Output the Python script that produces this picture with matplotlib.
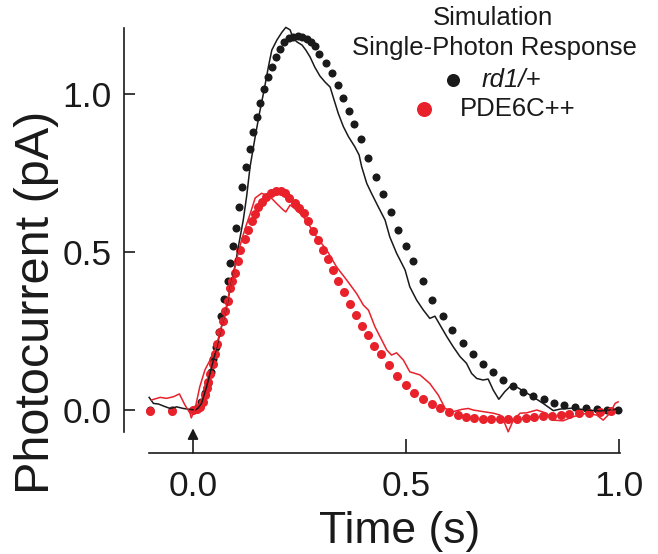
import matplotlib
matplotlib.use("Agg")
import matplotlib.pyplot as plt
from matplotlib.lines import Line2D

plt.rcParams['font.family'] = ['Liberation Sans', 'DejaVu Sans']

# ---- data -------------------------------------------------------------
# Simulation (dots)
sim_wt_t = [-0.10, -0.05, 0.000, 0.009, 0.019, 0.028, 0.035, 0.042, 0.046, 0.054, 0.061,
            0.066, 0.073, 0.081, 0.087, 0.094, 0.100, 0.109, 0.116, 0.124, 0.134,
            0.142, 0.150, 0.158, 0.167, 0.176, 0.185, 0.195, 0.204, 0.214, 0.225,
            0.235, 0.246, 0.257, 0.267, 0.277, 0.286, 0.296, 0.312, 0.326, 0.340,
            0.353, 0.366, 0.379, 0.394, 0.412, 0.430, 0.447, 0.464, 0.481, 0.500,
            0.517, 0.539, 0.562, 0.586, 0.609, 0.633, 0.657, 0.680, 0.705, 0.728,
            0.752, 0.775, 0.799, 0.824, 0.847, 0.872, 0.897, 0.923, 0.948, 0.973, 0.998]
sim_wt_v = [0.000, 0.000, 0.000, 0.006, 0.025, 0.053, 0.085, 0.119, 0.160, 0.198, 0.248,
            0.299, 0.352, 0.409, 0.465, 0.519, 0.575, 0.642, 0.705, 0.768, 0.825,
            0.881, 0.928, 0.973, 1.017, 1.053, 1.087, 1.116, 1.142, 1.164, 1.176,
            1.182, 1.185, 1.182, 1.174, 1.164, 1.151, 1.127, 1.097, 1.066, 1.029,
            0.989, 0.947, 0.905, 0.858, 0.797, 0.739, 0.683, 0.626, 0.571, 0.519,
            0.472, 0.407, 0.349, 0.299, 0.254, 0.213, 0.176, 0.145, 0.119, 0.094,
            0.075, 0.058, 0.044, 0.034, 0.023, 0.016, 0.010, 0.005, 0.002, 0.000, 0.000]

sim_pde_t = [-0.10, -0.05, 0.000, 0.009, 0.016, 0.023, 0.028, 0.032, 0.036, 0.040, 0.046,
             0.052, 0.057, 0.063, 0.070, 0.075, 0.081, 0.087, 0.092, 0.099, 0.105,
             0.110, 0.121, 0.130, 0.138, 0.146, 0.153, 0.161, 0.171, 0.182, 0.195,
             0.206, 0.216, 0.226, 0.239, 0.250, 0.261, 0.271, 0.282, 0.294, 0.306,
             0.318, 0.329, 0.341, 0.355, 0.369, 0.383, 0.397, 0.412, 0.425, 0.441,
             0.459, 0.479, 0.499, 0.519, 0.541, 0.561, 0.581, 0.602, 0.621, 0.641,
             0.660, 0.680, 0.700, 0.721, 0.740, 0.760, 0.782, 0.801, 0.822, 0.842,
             0.863, 0.883, 0.906, 0.930, 0.955, 0.981]
sim_pde_v = [-0.003, -0.003, 0.000, 0.002, 0.010, 0.026, 0.047, 0.069, 0.089, 0.115, 0.147,
             0.178, 0.210, 0.246, 0.283, 0.314, 0.346, 0.386, 0.409, 0.435, 0.472,
             0.505, 0.540, 0.571, 0.597, 0.620, 0.642, 0.658, 0.673, 0.686, 0.694,
             0.694, 0.686, 0.671, 0.655, 0.639, 0.624, 0.597, 0.568, 0.537, 0.506,
             0.477, 0.443, 0.409, 0.372, 0.337, 0.302, 0.267, 0.236, 0.204, 0.176,
             0.142, 0.108, 0.079, 0.054, 0.035, 0.018, 0.005, -0.006, -0.016, -0.022,
             -0.026, -0.028, -0.029, -0.029, -0.029, -0.027, -0.025, -0.023, -0.020, -0.018,
             -0.016, -0.013, -0.010, -0.008, -0.006, -0.004]

# Recorded responses (lines)
rec_wt_t = [-0.103, -0.093, -0.081, -0.070, -0.054, -0.038, -0.023, -0.007, 0.005, 0.012,
            0.020, 0.032, 0.044, 0.056, 0.067, 0.079, 0.088, 0.099, 0.108, 0.118,
            0.126, 0.134, 0.146, 0.156, 0.167, 0.177, 0.185, 0.197, 0.209, 0.218,
            0.228, 0.235, 0.244, 0.256, 0.265, 0.275, 0.286, 0.298, 0.310, 0.322,
            0.329, 0.341, 0.353, 0.365, 0.380, 0.390, 0.396, 0.408, 0.419, 0.435,
            0.451, 0.462, 0.478, 0.486, 0.498, 0.509, 0.525, 0.541, 0.556, 0.568,
            0.580, 0.596, 0.611, 0.627, 0.642, 0.654, 0.666, 0.681, 0.693, 0.705,
            0.718, 0.732, 0.744, 0.756, 0.772, 0.798, 0.822, 0.846, 0.862, 0.892,
            0.924, 0.955, 0.979, 0.998]
rec_wt_v = [0.040, 0.021, 0.019, 0.013, 0.005, 0.010, 0.005, 0.002, 0.000, 0.006,
            0.021, 0.074, 0.137, 0.200, 0.264, 0.327, 0.390, 0.459, 0.528, 0.601,
            0.677, 0.770, 0.865, 0.939, 1.013, 1.086, 1.139, 1.171, 1.196, 1.211,
            1.203, 1.177, 1.165, 1.155, 1.139, 1.117, 1.085, 1.057, 1.038, 1.022,
            0.991, 0.939, 0.897, 0.865, 0.833, 0.807, 0.770, 0.717, 0.686, 0.643,
            0.601, 0.548, 0.496, 0.475, 0.443, 0.390, 0.348, 0.316, 0.290, 0.297,
            0.269, 0.232, 0.200, 0.169, 0.148, 0.116, 0.100, 0.095, 0.098, 0.063,
            0.034, 0.058, 0.074, 0.076, 0.063, 0.042, 0.021, -0.002, 0.003, 0.006,
            0.000, -0.003, 0.000, 0.003]

rec_pde_t = [-0.097, -0.077, -0.062, -0.046, -0.032, -0.019, -0.007, -0.004, 0.005, 0.016,
             0.028, 0.040, 0.052, 0.063, 0.075, 0.083, 0.093, 0.103, 0.114, 0.126,
             0.134, 0.146, 0.161, 0.181, 0.196, 0.212, 0.218, 0.228, 0.243, 0.259,
             0.275, 0.290, 0.314, 0.337, 0.361, 0.384, 0.400, 0.412, 0.427, 0.443,
             0.455, 0.466, 0.478, 0.494, 0.509, 0.533, 0.556, 0.576, 0.592, 0.611,
             0.631, 0.646, 0.658, 0.681, 0.705, 0.721, 0.732, 0.740, 0.752, 0.768,
             0.783, 0.807, 0.830, 0.846, 0.869, 0.893, 0.924, 0.948, 0.963, 0.979,
             0.991, 0.998]
rec_pde_v = [0.032, 0.040, 0.037, 0.042, 0.051, 0.016, -0.010, -0.025, 0.005, 0.074,
             0.127, 0.158, 0.190, 0.244, 0.306, 0.359, 0.417, 0.480, 0.538, 0.589,
             0.620, 0.671, 0.686, 0.675, 0.654, 0.633, 0.627, 0.649, 0.633, 0.612,
             0.580, 0.548, 0.506, 0.453, 0.411, 0.369, 0.332, 0.316, 0.264, 0.222,
             0.190, 0.174, 0.181, 0.158, 0.121, 0.111, 0.084, 0.047, 0.005, -0.005,
             0.002, 0.005, 0.000, -0.005, -0.010, -0.016, -0.042, -0.069, -0.032, -0.010,
             -0.009, 0.000, -0.010, -0.032, -0.034, -0.021, -0.010, -0.016, -0.032, -0.010,
             0.021, 0.026]

xticks = [0.0, 0.5, 1.0]
xticklabels = ['0.0', '0.5', '1.0']
yticks = [0.0, 0.5, 1.0]
yticklabels = ['0.0', '0.5', '1.0']

legend_title = ['Simulation', 'Single-Photon Response']
legend_labels = ['rd1/+', 'PDE6C++']

BLACK = '#1a1a1a'
RED = '#e8212b'

# ---- figure -----------------------------------------------------------
W, H = 658, 554
fig = plt.figure(figsize=(W / 100, H / 100), dpi=100)
ax = fig.add_axes([124 / W, (H - 453) / H, 506 / W, 425 / H])

ax.plot(sim_wt_t, sim_wt_v, 'o', color=BLACK, ms=5.8, mew=0, clip_on=False, zorder=2)
ax.plot(sim_pde_t, sim_pde_v, 'o', color=RED, ms=6.5, mew=0, clip_on=False, zorder=3)
ax.plot(rec_wt_t, rec_wt_v, '-', color=BLACK, lw=1.1, clip_on=False, zorder=4)
ax.plot(rec_pde_t, rec_pde_v, '-', color=RED, lw=1.1, clip_on=False, zorder=5)

ax.set_xlim(-0.162, 1.026)
ax.set_ylim(-0.136, 1.209)

for s in ['top', 'right']:
    ax.spines[s].set_visible(False)
ax.spines['left'].set_bounds(-0.07, 1.209)
ax.spines['bottom'].set_bounds(-0.103, 1.002)
for s in ['left', 'bottom']:
    ax.spines[s].set_linewidth(1.2)
    ax.spines[s].set_color(BLACK)

ax.set_xticks(xticks)
ax.set_xticklabels(xticklabels)
ax.set_yticks(yticks)
ax.set_yticklabels(yticklabels)
ax.tick_params(axis='x', direction='in', length=10, width=1.2, pad=12,
               labelsize=25.5, colors=BLACK)
ax.tick_params(axis='y', direction='in', length=8, width=1.2, pad=9,
               labelsize=25.5, colors=BLACK)
ax.xaxis.get_major_ticks()[0].tick1line.set_visible(False)

# stimulus arrow at t = 0
ax.annotate('', xy=(0.0, -0.058), xytext=(0.0, -0.136),
            arrowprops=dict(arrowstyle='-|>', color=BLACK, lw=1.2,
                            mutation_scale=16, shrinkA=0, shrinkB=0),
            annotation_clip=False)

ax.set_xlabel('Time (s)', fontsize=32, color=BLACK)
ax.xaxis.set_label_coords((400 - 124) / 506, (453 - 531) / 425)
ax.xaxis.label.set_va('center')
ax.set_ylabel('Photocurrent (pA)', fontsize=35, color=BLACK)
ax.yaxis.set_label_coords((37 - 124) / 506, (453 - 302) / 425)
ax.yaxis.label.set_va('center')

# legend (drawn in figure pixels)
def fx(px):
    return px / W

def fy(py):
    return (H - py) / H

fig.text(fx(493), fy(18), legend_title[0], fontsize=18.5, ha='center', va='center', color=BLACK)
fig.text(fx(494), fy(48), legend_title[1], fontsize=18.5, ha='center', va='center', color=BLACK)
fig.text(fx(482), fy(80), legend_labels[0], fontsize=18.5, style='italic',
         ha='left', va='center', color=BLACK)
fig.text(fx(460), fy(109), legend_labels[1], fontsize=18.5, ha='left', va='center', color=BLACK)
fig.add_artist(Line2D([fx(453)], [fy(80)], marker='o', ms=9.4, mew=0, color=BLACK,
                      transform=fig.transFigure))
fig.add_artist(Line2D([fx(424)], [fy(109)], marker='o', ms=10.8, mew=0, color=RED,
                      transform=fig.transFigure))

fig.savefig('out.png', dpi=100)
